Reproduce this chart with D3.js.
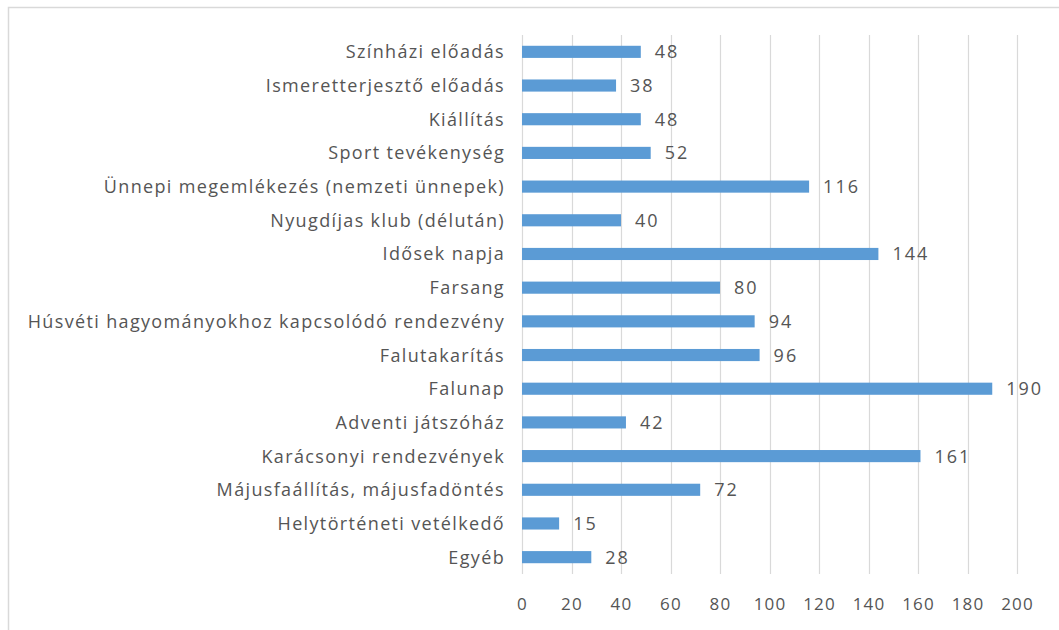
<!DOCTYPE html>
<html>
<head>
<meta charset="utf-8">
<script src="https://cdn.jsdelivr.net/npm/d3@7"></script>
<style>
  body { margin: 0; background: #fff; }
  svg text { font-family: "Open Sans", "Noto Sans", sans-serif; fill: #555555; }
</style>
</head>
<body>
<svg id="chart"></svg>
<script>
// categories top to bottom
var categories = [
  "Színházi előadás",
  "Ismeretterjesztő előadás",
  "Kiállítás",
  "Sport tevékenység",
  "Ünnepi megemlékezés (nemzeti ünnepek)",
  "Nyugdíjas klub (délután)",
  "Idősek napja",
  "Farsang",
  "Húsvéti hagyományokhoz kapcsolódó rendezvény",
  "Falutakarítás",
  "Falunap",
  "Adventi játszóház",
  "Karácsonyi rendezvények",
  "Májusfaállítás, májusfadöntés",
  "Helytörténeti vetélkedő",
  "Egyéb"
];
var values = [48, 38, 48, 52, 116, 40, 144, 80, 94, 96, 190, 42, 161, 72, 15, 28];
var xTicks = [0, 20, 40, 60, 80, 100, 120, 140, 160, 180, 200];

var width = 1059, height = 630;
var svg = d3.select("#chart").attr("width", width).attr("height", height);

// chart area border (Excel style)
svg.append("rect")
  .attr("x", 8.5).attr("y", 7.5)
  .attr("width", 1070).attr("height", 640)
  .attr("fill", "none").attr("stroke", "#d9d9d9").attr("stroke-width", 1.5);

var x = d3.scaleLinear().domain([0, 200]).range([522, 1017]);
var y = d3.scaleBand().domain(categories).range([35, 574]).paddingInner(0.64).paddingOuter(0.32);

// gridlines
svg.append("g").selectAll("line")
  .data(xTicks)
  .enter().append("line")
  .attr("x1", function(d){ return Math.round(x(d)) + 0.5; })
  .attr("x2", function(d){ return Math.round(x(d)) + 0.5; })
  .attr("y1", 35).attr("y2", 574)
  .attr("stroke", "#d9d9d9").attr("stroke-width", 1.2);

// bars
svg.append("g").selectAll("rect")
  .data(values)
  .enter().append("rect")
  .attr("x", x(0))
  .attr("y", function(d, i){ return y(categories[i]); })
  .attr("width", function(d){ return x(d) - x(0); })
  .attr("height", y.bandwidth())
  .attr("fill", "#5b9bd5");

// value labels
svg.append("g").selectAll("text")
  .data(values)
  .enter().append("text")
  .attr("x", function(d){ return x(d) + 14; })
  .attr("y", function(d, i){ return y(categories[i]) + y.bandwidth() / 2; })
  .attr("dy", "0.36em")
  .style("font-size", "18px")
  .style("letter-spacing", "2px")
  .text(function(d){ return d; });

// category labels
svg.append("g").selectAll("text")
  .data(categories)
  .enter().append("text")
  .attr("x", 505)
  .attr("y", function(d){ return y(d) + y.bandwidth() / 2; })
  .attr("dy", "0.36em")
  .attr("text-anchor", "end")
  .style("font-size", "18px")
  .style("letter-spacing", "1.35px")
  .text(function(d){ return d; });

// x axis tick labels
var xAxis = d3.axisBottom(x).tickValues(xTicks).tickSize(0).tickPadding(0);
var gx = svg.append("g").attr("transform", "translate(0,598)").call(xAxis);
gx.select(".domain").remove();
gx.selectAll("text")
  .attr("dy", "0.36em").attr("y", 6)
  .style("font-size", "17px")
  .style("letter-spacing", "1.2px")
  .style("font-family", "'Open Sans', sans-serif")
  .attr("fill", "#555555");
</script>
</body>
</html>
